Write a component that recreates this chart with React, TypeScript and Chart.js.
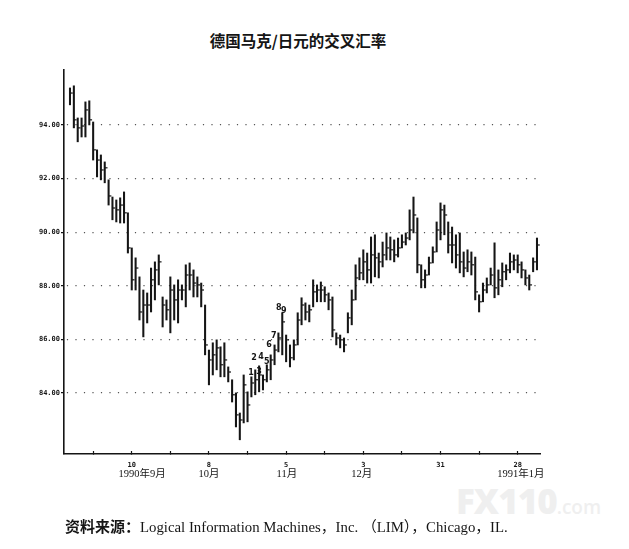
import { useEffect, useRef } from "react";
import { Chart, registerables } from "chart.js";

Chart.register(...registerables);

// Daily high / low / close of DEM/JPY cross rate (bar index 0..121)
const highs = [
  95.38, 95.46, 94.26, 94.26, 94.86, 94.9, 94.11, 93.07, 92.88, 92.62,
  91.95, 91.31, 91.2, 91.28, 91.5, 90.72, 89.41, 89.04, 88.33, 87.84,
  87.73, 88.66, 88.89, 89.15, 87.58, 87.47, 88.33, 88.03, 88.22, 88.03,
  88.78, 88.85, 88.59, 88.33, 88.1, 87.28, 85.6, 85.87, 85.98, 85.72,
  85.87, 84.97, 84.49, 84.0, 83.25, 84.67, 84.04, 84.6, 84.86, 85.01,
  84.67, 85.05, 85.42, 85.79, 86.24, 86.99, 86.16, 85.79, 85.98, 86.99,
  87.55, 87.36, 87.28, 88.22, 88.03, 88.14, 87.96, 87.73, 87.58, 86.24,
  86.16, 86.05, 86.99, 87.84, 88.78, 89.04, 89.34, 89.22, 89.82, 89.9,
  89.22, 89.63, 89.97, 89.82, 89.71, 89.78, 89.9, 89.97, 90.83, 91.31,
  90.53, 88.78, 88.59, 89.07, 89.45, 90.38, 91.09, 91.01, 90.38, 90.19,
  89.9, 89.97, 89.26, 89.34, 89.26, 89.07, 87.66, 88.1, 88.29, 88.66,
  89.6, 88.59, 88.85, 88.78, 89.22, 89.15, 89.15, 88.89, 88.59, 88.4,
  89.04, 89.78,
];
const lows = [
  94.75, 93.89, 93.37, 93.55, 93.55, 94.0, 92.69, 92.06, 91.95, 91.84,
  91.01, 90.46, 90.38, 90.34, 90.34, 89.22, 87.84, 87.84, 86.72, 86.09,
  86.61, 87.02, 87.47, 88.03, 86.46, 86.72, 86.24, 86.72, 86.61, 87.47,
  87.21, 87.84, 87.58, 87.58, 87.21, 85.42, 84.3, 84.67, 84.86, 84.6,
  84.6, 84.41, 83.66, 82.73, 82.25, 82.88, 82.92, 83.85, 83.93, 84.04,
  84.11, 84.41, 84.49, 85.05, 85.53, 85.42, 85.16, 84.97, 85.23, 85.79,
  86.54, 86.72, 86.65, 87.21, 87.4, 87.4, 87.4, 87.1, 86.09, 85.79,
  85.68, 85.53, 86.24, 86.54, 87.47, 88.22, 88.22, 88.1, 88.1, 88.33,
  88.29, 88.7, 88.96, 88.96, 88.89, 89.07, 89.41, 89.52, 89.71, 89.97,
  88.48, 87.92, 87.92, 88.4, 88.85, 89.26, 89.71, 89.9, 89.22, 88.85,
  88.66, 88.48, 88.33, 88.52, 88.4, 87.47, 87.02, 87.4, 87.73, 88.03,
  87.55, 87.66, 87.96, 88.22, 88.48, 88.59, 88.48, 88.29, 88.03, 87.84,
  88.52, 88.59,
];
const closes = [
  95.19, 94.19, 93.89, 93.96, 94.56, 94.19, 93.07, 92.69, 92.32, 92.4,
  91.35, 90.9, 90.83, 91.01, 90.72, 89.41, 88.22, 88.66, 87.02, 87.28,
  87.28, 88.22, 88.59, 88.89, 87.28, 87.1, 87.84, 87.47, 87.84, 87.84,
  88.4, 88.4, 88.1, 88.03, 87.84, 85.79, 85.23, 85.42, 85.68, 85.05,
  85.23, 84.78, 83.93, 83.18, 82.99, 84.3, 83.55, 84.37, 84.49, 84.67,
  84.49, 84.86, 85.23, 85.6, 86.05, 86.65, 85.98, 85.31, 85.79, 86.72,
  87.28, 87.02, 87.1, 87.77, 87.84, 87.84, 87.66, 87.47, 86.35, 86.05,
  85.98, 85.79, 86.8, 87.47, 88.29, 88.48, 88.89, 88.59, 89.15, 89.04,
  88.89, 89.15, 89.41, 89.34, 89.15, 89.41, 89.63, 89.78, 90.08, 90.64,
  88.78, 88.22, 88.4, 88.85, 89.26, 90.08, 90.83, 90.64, 89.52, 89.52,
  89.15, 88.89, 88.66, 88.89, 88.78, 87.77, 87.4, 87.84, 88.03, 88.4,
  87.92, 88.22, 88.52, 88.59, 88.89, 88.96, 88.78, 88.59, 88.29, 88.03,
  88.89, 89.52,
];

// x-axis ticks (bar index) and their day labels
const tickIndex = [6, 16, 26, 36, 46, 56, 66, 76, 86, 96, 106, 116];
const tickDayLabels = ["", "10", "", "8", "", "5", "", "3", "", "31", "", "28"];
// month labels and the bar index they sit under
const monthIndex = [18.7, 36, 56.2, 75.6, 116.8];
const monthLabels = ["1990年9月", "10月", "11月", "12月", "1991年1月"];
// y-axis ticks
const yTicks = [84, 86, 88, 90, 92, 94];
// day-count annotations near the November rally
const countText = ["1", "2", "3", "4", "5", "6", "7", "8", "9"];
const countX = [46.9, 47.7, 49.0, 49.5, 51.0, 51.6, 52.8, 54.1, 55.4];
const countY = [84.75, 85.31, 84.78, 85.34, 85.16, 85.79, 86.13, 87.17, 87.06];

const X_MIN = -1.554;
const X_MAX = 121.78;
const INK = "#151515";

const countLabelsPlugin = {
  id: "countLabels",
  afterDatasetsDraw(chart: any) {
    const { ctx, scales } = chart;
    const xs = scales.x;
    const ys = scales.y;
    ctx.save();
    ctx.font = 'bold 8px "DejaVu Sans", sans-serif';
    ctx.fillStyle = INK;
    ctx.textAlign = "center";
    ctx.textBaseline = "middle";
    countText.forEach((t, i) => {
      ctx.fillText(t, xs.getPixelForValue(countX[i]), ys.getPixelForValue(countY[i]));
    });
    ctx.restore();
  },
};

export default function App() {
  const canvasRef = useRef<HTMLCanvasElement | null>(null);

  useEffect(() => {
    if (!canvasRef.current) return;
    const chart = new Chart(canvasRef.current, {
      type: "bar",
      data: {
        datasets: [
          {
            type: "bar",
            data: highs.map((h, i) => ({ x: i, y: [lows[i], h] })) as any,
            backgroundColor: INK,
            borderWidth: 0,
            barThickness: 1.4,
            grouped: false,
            xAxisID: "x",
            yAxisID: "y",
          } as any,
          {
            type: "scatter",
            data: closes.map((c, i) => ({ x: i + 0.36, y: c })),
            pointStyle: "line",
            pointRadius: 1.4,
            pointHoverRadius: 1.4,
            pointBorderWidth: 1.2,
            pointBorderColor: INK,
            pointBackgroundColor: INK,
            xAxisID: "x",
            yAxisID: "y",
          } as any,
        ],
      },
      options: {
        responsive: false,
        animation: false,
        events: [],
        layout: { padding: { left: 0, right: 89, top: 70, bottom: 60 } },
        plugins: {
          legend: { display: false },
          tooltip: { enabled: false },
          title: { display: false },
        },
        scales: {
          x: {
            type: "linear",
            position: "bottom",
            weight: 1,
            min: X_MIN,
            max: X_MAX,
            offset: false,
            afterBuildTicks: (s: any) => {
              s.ticks = tickIndex.map((v) => ({ value: v }));
            },
            afterFit: (s: any) => {
              s.height = 13;
            },
            grid: {
              display: true,
              drawOnChartArea: false,
              drawTicks: true,
              tickLength: -3,
              tickColor: INK,
              tickWidth: 1.2,
              offset: false,
            },
            border: { display: true, color: INK, width: 1.6 },
            ticks: {
              autoSkip: false,
              maxRotation: 0,
              padding: 10,
              color: INK,
              font: { family: '"DejaVu Sans Mono", monospace', size: 7, weight: "bold" },
              callback: (v: any) => {
                const k = tickIndex.indexOf(Number(v));
                return k >= 0 ? tickDayLabels[k] : "";
              },
            },
          } as any,
          x2: {
            type: "linear",
            position: "bottom",
            weight: 2,
            min: X_MIN,
            max: X_MAX,
            offset: false,
            afterBuildTicks: (s: any) => {
              s.ticks = monthIndex.map((v) => ({ value: v }));
            },
            afterFit: (s: any) => {
              s.height = 22;
            },
            grid: { display: false, drawTicks: false, drawOnChartArea: false },
            border: { display: false },
            ticks: {
              autoSkip: false,
              maxRotation: 0,
              padding: 1,
              color: INK,
              font: { family: '"Liberation Serif", "Noto Sans CJK SC", serif', size: 10.5 },
              callback: (v: any) => {
                const k = monthIndex.indexOf(Number(v));
                return k >= 0 ? monthLabels[k] : "";
              },
            },
          } as any,
          y: {
            type: "linear",
            min: 81.72,
            max: 96.05,
            afterBuildTicks: (s: any) => {
              s.ticks = yTicks.map((v) => ({ value: v }));
            },
            afterFit: (s: any) => {
              s.width = 64;
            },
            grid: {
              display: true,
              drawOnChartArea: true,
              drawTicks: true,
              tickLength: 3,
              color: "#555",
              lineWidth: 1.2,
              tickColor: INK,
              tickWidth: 1.2,
            },
            border: { display: true, color: INK, width: 1.6, dash: [1.2, 7.3], dashOffset: 6.2 },
            ticks: {
              padding: 1,
              color: INK,
              font: { family: '"DejaVu Sans Mono", monospace', size: 7, weight: "bold" },
              callback: (v: any) => Number(v).toFixed(2),
            },
          } as any,
        },
      },
      plugins: [countLabelsPlugin],
    });
    return () => chart.destroy();
  }, []);

  return (
    <div
      style={{
        position: "absolute",
        left: 0,
        top: 0,
        width: 629,
        height: 549,
        background: "#fff",
        overflow: "hidden",
      }}
    >
      <div
        style={{
          position: "absolute",
          left: 0,
          top: 29,
          width: 596,
          textAlign: "center",
          fontFamily: '"Noto Sans CJK SC", sans-serif',
          fontWeight: 700,
          fontSize: 15.5,
          lineHeight: "22px",
          color: INK,
        }}
      >
        德国马克/日元的交叉汇率
      </div>
      <div
        style={{
          position: "absolute",
          left: 456,
          top: 481,
          fontFamily: '"Open Sans", "Noto Sans", sans-serif',
          fontWeight: 800,
          fontSize: 35,
          lineHeight: "40px",
          color: "#efefef",
          letterSpacing: -1,
          whiteSpace: "nowrap",
        }}
      >
        FX110
        <span style={{ fontSize: 19, fontWeight: 600, letterSpacing: 0 }}>.com</span>
      </div>
      <canvas ref={canvasRef} width={629} height={549} style={{ position: "absolute", left: 0, top: 0, display: "block" }} />
      <div
        style={{
          position: "absolute",
          left: 65,
          top: 516,
          whiteSpace: "nowrap",
          fontSize: 14.8,
          lineHeight: "20px",
          color: INK,
          fontFamily: '"Liberation Serif", "Noto Sans CJK SC", serif',
        }}
      >
        <span style={{ fontFamily: '"Noto Sans CJK SC", sans-serif', fontWeight: 700, fontSize: 15 }}>资料来源：</span>
        Logical Information Machines，Inc. （LIM），Chicago，IL.
      </div>
    </div>
  );
}
